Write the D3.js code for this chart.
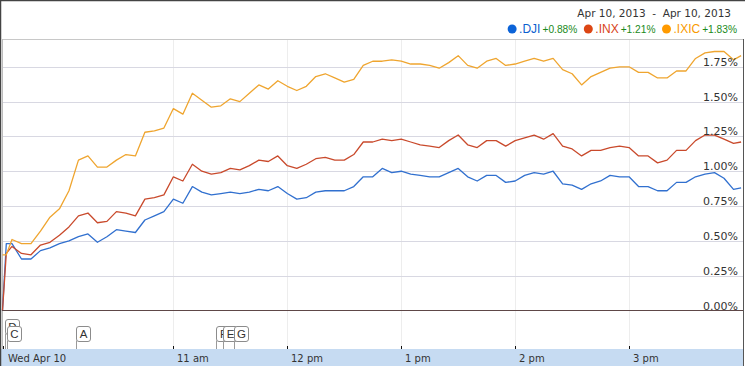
<!DOCTYPE html>
<html><head><meta charset="utf-8">
<script src="https://cdn.jsdelivr.net/npm/d3@7"></script>
<style>body{margin:0;background:#fff}svg{display:block}</style>
</head><body>
<svg id="c" width="745" height="366"></svg>
<script>
// minutes after 9:30 open
const minutes = [0,2,5,10,15,20,25,30,35,40,45,50,55,60,65,70,75,80,85,90,95,100,105,110,115,120,125,130,135,140,145,150,155,160,165,170,175,180,185,190,195,200,205,210,215,220,225,230,235,240,245,250,255,260,265,270,275,280,285,290,295,300,305,310,315,320,325,330,335,340,345,350,355,360,365,370,375,380,385,389];
const dji  = [0,0.48,0.48,0.37,0.37,0.43,0.45,0.48,0.50,0.53, 0.55,0.49,0.53,0.58,0.57,0.56,0.65,0.68,0.71,0.80, 0.77,0.89,0.85,0.83,0.84,0.85,0.84,0.85,0.87,0.86, 0.89,0.84,0.80,0.81,0.85,0.86,0.86,0.86,0.89,0.96, 0.96,1.02,0.99,1.00,0.98,0.97,0.96,0.96,0.99,1.02, 0.96,0.93,0.97,0.97,0.92,0.93,0.97,0.99,0.98,1.00, 0.91,0.90,0.87,0.91,0.93,0.97,0.96,0.96,0.89,0.89, 0.86,0.86,0.92,0.92,0.96,0.98,0.99,0.95,0.87,0.88];
const inx  = [0,0.41,0.46,0.41,0.40,0.47,0.49,0.54,0.60,0.68, 0.70,0.63,0.64,0.71,0.70,0.68,0.80,0.81,0.83,0.96, 0.93,1.05,1.00,0.98,0.99,1.02,1.01,1.04,1.08,1.07, 1.11,1.04,1.02,1.05,1.09,1.10,1.08,1.08,1.12,1.21, 1.21,1.23,1.22,1.23,1.21,1.19,1.18,1.17,1.22,1.26, 1.19,1.17,1.22,1.22,1.18,1.22,1.24,1.26,1.23,1.27, 1.18,1.16,1.11,1.15,1.15,1.17,1.18,1.17,1.11,1.11, 1.06,1.08,1.15,1.15,1.22,1.26,1.26,1.23,1.20,1.21];
const ixic = [0.40,0.40,0.51,0.48,0.48,0.57,0.67,0.73,0.86,1.08, 1.11,1.03,1.03,1.08,1.12,1.11,1.28,1.29,1.31,1.45, 1.41,1.56,1.51,1.46,1.47,1.52,1.50,1.56,1.62,1.59, 1.65,1.61,1.58,1.61,1.68,1.70,1.67,1.64,1.66,1.76, 1.79,1.79,1.80,1.79,1.77,1.77,1.76,1.74,1.78,1.83, 1.76,1.74,1.79,1.81,1.76,1.77,1.79,1.81,1.79,1.81, 1.73,1.70,1.62,1.68,1.71,1.74,1.75,1.75,1.71,1.71, 1.67,1.67,1.72,1.72,1.81,1.85,1.86,1.86,1.80,1.83];

const seriesNames = [".DJI", ".INX", ".IXIC"];
const seriesChanges = ["+0.88%", "+1.21%", "+1.83%"];
const yTickValues = [0, 0.25, 0.5, 0.75, 1.0, 1.25, 1.5, 1.75];
const hourMinutes = [90, 150, 210, 270, 330];
const hourLabels = ["11 am", "12 pm", "1 pm", "2 pm", "3 pm"];
const dayLabel = "Wed Apr 10";
const dateRange = "Apr 10, 2013  -  Apr 10, 2013";
const flagLetters = ["D", "C", "A", "F", "E", "G"];
const flagMinutes = [1.3, 2.4, 38.7, 112.4, 116.1, 121.9];
const flagLevels = [1, 0, 0, 0, 0, 0];

const lineColors = ["#3170cf", "#c94a2c", "#efa52f"];
const dotColors = ["#0b63d8", "#dc4614", "#ff9a00"];
const textColors = ["#0b5fcf", "#d8441a", "#f99a00"];

const svg = d3.select("#c");
const x = d3.scaleLinear().domain([0, 390]).range([2.5, 743]);
const y = d3.scaleLinear().domain([0, 1.75]).range([310.5, 66.8]);
const FONT = "DejaVu Sans, Verdana, sans-serif";
const SANS = "Liberation Sans, Arial, sans-serif";

// vertical hour gridlines
svg.append("g").selectAll("line").data(hourMinutes).join("line")
  .attr("x1", d => Math.round(x(d)) + 0.5).attr("x2", d => Math.round(x(d)) + 0.5)
  .attr("y1", 40).attr("y2", 349).attr("stroke", "#ededed");

// horizontal gridlines
svg.append("g").selectAll("line").data(yTickValues.filter(v => v > 0)).join("line")
  .attr("x1", 2).attr("x2", 743)
  .attr("y1", d => Math.round(y(d)) + 0.5).attr("y2", d => Math.round(y(d)) + 0.5)
  .attr("stroke", "#d8d8e2");

// header separator
svg.append("line").attr("x1", 2).attr("x2", 743).attr("y1", 39.5).attr("y2", 39.5).attr("stroke", "#c8c8c8");
// plot left border
svg.append("line").attr("x1", 2.5).attr("x2", 2.5).attr("y1", 39).attr("y2", 349).attr("stroke", "#bdbdbd");

// series lines
const series = [dji, inx, ixic];
const line = d3.line().x((d, i) => x(minutes[i])).y(d => y(d));
series.forEach((s, k) => {
  svg.append("path").datum(s).attr("d", line)
    .attr("fill", "none").attr("stroke", lineColors[k]).attr("stroke-width", 1.3)
    .attr("stroke-linejoin", "round");
});

// bottom axis line
svg.append("line").attr("x1", 2).attr("x2", 743).attr("y1", 310.5).attr("y2", 310.5)
  .attr("stroke", "#5e4747").attr("stroke-width", 1.2);

// y labels
svg.append("g").selectAll("text").data(yTickValues).join("text")
  .attr("x", 738).attr("y", d => Math.round(y(d)) - 1)
  .attr("text-anchor", "end").attr("font-family", FONT).attr("font-size", 11)
  .attr("fill", "#333").text(d => d3.format(".2f")(d) + "%");

// flags
const fg = svg.append("g");
flagLetters.forEach((L, i) => {
  const fx = Math.round(x(flagMinutes[i])) + 0.5;
  const top = flagLevels[i] ? 319.5 : 326.5;
  fg.append("line").attr("x1", fx).attr("x2", fx).attr("y1", top + 14).attr("y2", 349)
    .attr("stroke", "#9a9a9a");
  fg.append("rect").attr("x", fx).attr("y", top).attr("width", 14).attr("height", 15)
    .attr("rx", 2.5).attr("fill", "#fff").attr("stroke", "#8c8c8c");
  fg.append("text").attr("x", fx + 7).attr("y", top + 11.5).attr("text-anchor", "middle")
    .attr("font-family", SANS).attr("font-size", 11.5)
    .attr("fill", "#333").text(L);
});

// bottom band
svg.append("rect").attr("x", 0).attr("y", 349).attr("width", 743).attr("height", 17).attr("fill", "#c6dbf2");
// ticks
svg.append("g").selectAll("line").data([0].concat(hourMinutes)).join("line")
  .attr("x1", d => Math.round(x(d)) + 0.5).attr("x2", d => Math.round(x(d)) + 0.5)
  .attr("y1", 346).attr("y2", 349).attr("stroke", "#111");
svg.append("text").attr("x", 8).attr("y", 362).attr("font-family", FONT).attr("font-size", 10)
  .attr("fill", "#333").text(dayLabel);
svg.append("g").selectAll("text").data(hourMinutes).join("text")
  .attr("x", d => Math.round(x(d)) + 4).attr("y", 362)
  .attr("font-family", FONT).attr("font-size", 10).attr("fill", "#333")
  .text((d, i) => hourLabels[i]);

// header date range
svg.append("text").attr("x", 731).attr("y", 17).attr("text-anchor", "end")
  .attr("font-family", FONT).attr("font-size", 10.5).attr("fill", "#333")
  .style("white-space", "pre").text(dateRange);

// legend (laid out right-to-left)
const lg = svg.append("g");
let cursor = 737;
for (let k = seriesNames.length - 1; k >= 0; k--) {
  const ch = lg.append("text").attr("x", cursor).attr("y", 33).attr("text-anchor", "end")
    .attr("font-family", SANS).attr("font-size", 10.2)
    .attr("fill", "#1a8a1a").text(seriesChanges[k]);
  cursor -= ch.node().getComputedTextLength() + 2;
  const nm = lg.append("text").attr("x", cursor).attr("y", 33).attr("text-anchor", "end")
    .attr("font-family", SANS).attr("font-size", 12)
    .attr("fill", textColors[k]).text(seriesNames[k]);
  cursor -= nm.node().getComputedTextLength();
  const cx = cursor - 7;
  lg.append("circle").attr("cx", cx).attr("cy", 29).attr("r", 4.5).attr("fill", dotColors[k]);
  cursor = cx - 11;
}

// outer borders
svg.append("line").attr("x1", 0).attr("x2", 745).attr("y1", 0.5).attr("y2", 0.5).attr("stroke", "#444").attr("stroke-width", 1.5);
svg.append("line").attr("x1", 0.5).attr("x2", 0.5).attr("y1", 0).attr("y2", 366).attr("stroke", "#444").attr("stroke-width", 1.5);
svg.append("line").attr("x1", 743.5).attr("x2", 743.5).attr("y1", 39).attr("y2", 366).attr("stroke", "#555");
</script>
</body></html>
